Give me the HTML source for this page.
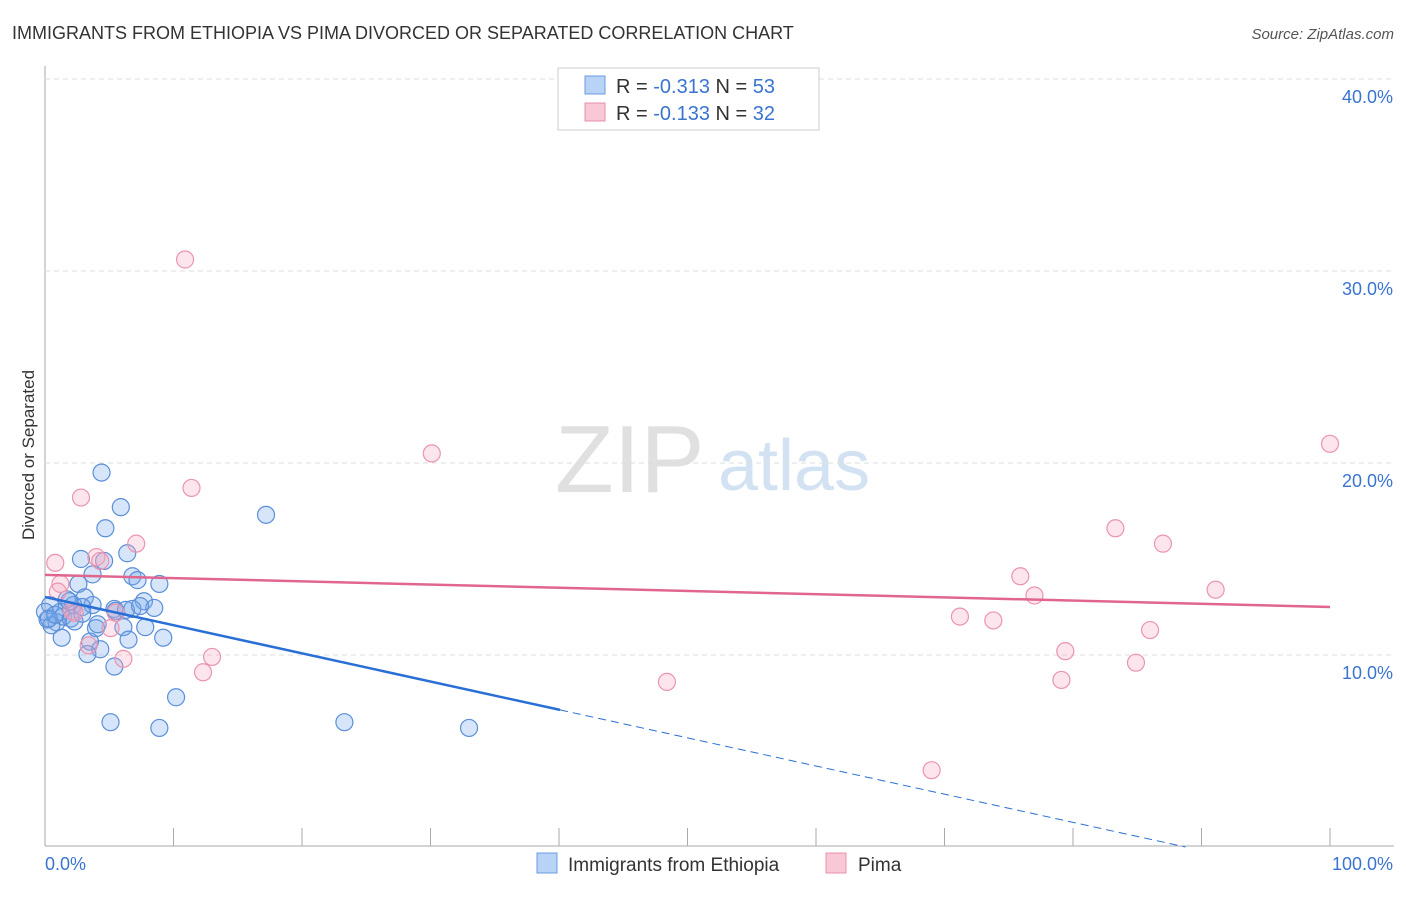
<!DOCTYPE html>
<html><head><meta charset="utf-8"><style>
body{margin:0;background:#fff;font-family:"Liberation Sans",sans-serif;}
svg text{font-family:"Liberation Sans",sans-serif;}
</style></head><body>
<svg id="chart" width="1406" height="892">
<text x="12" y="39" font-size="18" fill="#333">IMMIGRANTS FROM ETHIOPIA VS PIMA DIVORCED OR SEPARATED CORRELATION CHART</text>
<text x="1394" y="39" font-size="15" fill="#555" font-style="italic" text-anchor="end">Source: ZipAtlas.com</text>
<text x="34" y="455" font-size="17" fill="#333" transform="rotate(-90 34 455)" text-anchor="middle">Divorced or Separated</text>
<text x="555" y="492" font-size="96" fill="#e0e0e0" font-family="Liberation Serif">ZIP</text>
<text x="718" y="490" font-size="72" fill="#d3e2f3">atlas</text>
<g id="grid"></g><g id="pts"></g><g id="lines"></g>
<g>
<rect x="558" y="68" width="261" height="62" fill="#fff" stroke="#ccc"/>
<rect x="585" y="76" width="20" height="18" fill="#b8d3f5" stroke="#6a9be0"/>
<text x="616" y="93" font-size="20" fill="#333">R = <tspan fill="#3a74d0">-0.313</tspan>   N = <tspan fill="#3a74d0">53</tspan></text>
<rect x="585" y="103" width="20" height="18" fill="#f8c8d6" stroke="#e890a8"/>
<text x="616" y="120" font-size="20" fill="#333">R = <tspan fill="#3a74d0">-0.133</tspan>   N = <tspan fill="#3a74d0">32</tspan></text>
</g>
<g>
<rect x="537" y="853" width="20" height="20" fill="#b8d3f5" stroke="#6a9be0"/>
<text x="568" y="871" font-size="19" fill="#333">Immigrants from Ethiopia</text>
<rect x="826" y="853" width="20" height="20" fill="#f8c8d6" stroke="#e890a8"/>
<text x="858" y="871" font-size="19" fill="#333">Pima</text>
</g>
<text x="45" y="870" font-size="18" fill="#3a74d0">0.0%</text>
<text x="1393" y="870" font-size="18" fill="#3a74d0" text-anchor="end">100.0%</text>
</svg>
<script>
const yTicks=[10,20,30,40];
const blueX=[4.4,5.9,4.7,17.2,6.4,2.8,4.6,3.7,6.8,7.2,8.9,2.6,1.7,3.1,7.7,2.2,3.7,5.4,6.8,8.5,2.9,1.2,0.4,0.2,0.9,1.4,2.0,2.3,0.5,5.5,6.3,3.97,6.1,7.8,1.3,3.5,6.5,9.2,4.3,3.3,5.4,10.2,5.1,8.9,23.3,33.0,7.4,1.9,0.0,0.3,0.8,4.1,2.9];
const blueY=[19.5,17.7,16.6,17.3,15.3,15.0,14.9,14.2,14.1,13.9,13.7,13.7,12.9,13.0,12.8,12.6,12.6,12.4,12.4,12.45,12.5,12.25,12.6,11.85,11.7,12.0,11.9,11.75,11.55,12.3,12.35,11.4,11.45,11.45,10.9,10.7,10.8,10.9,10.3,10.05,9.4,7.8,6.5,6.2,6.5,6.2,12.55,12.8,12.25,11.9,12.1,11.6,12.15];
const pinkX=[10.9,30.1,2.8,11.4,0.8,7.1,4.0,4.3,1.2,2.1,5.5,5.1,3.4,6.1,13.0,12.3,48.4,100,83.3,87.0,75.9,77.0,91.1,71.2,73.8,86.0,79.4,84.9,79.1,69.0,2.3,1.0];
const pinkY=[30.6,20.5,18.2,18.7,14.8,15.8,15.1,14.9,13.7,12.3,12.2,11.4,10.5,9.8,9.9,9.1,8.6,21.0,16.6,15.8,14.1,13.1,13.4,12.0,11.8,11.3,10.2,9.6,8.7,4.0,12.2,13.3];
const blueLine=[13.02,-0.1467];
const pinkLine=[14.17,12.5];
const X=v=>45+v*12.85, Y=v=>847-v*19.2;
const NS="http://www.w3.org/2000/svg";
function mk(t,a,p){const e=document.createElementNS(NS,t);for(const k in a)e.setAttribute(k,a[k]);p.appendChild(e);return e;}
const g=document.getElementById('grid'),svg=document.getElementById('chart');
const ax=mk('line',{x1:45,y1:66,x2:45,y2:846,stroke:'#aaa'},g);


const bx=mk('line',{x1:45,y1:846,x2:1394,y2:846,stroke:'#aaa'},g);


for(let i=1;i<=10;i++){const t=mk('line',{x1:45+i*128.5,y1:828,x2:45+i*128.5,y2:846,stroke:'#aaa'},g);

}
yTicks.forEach(v=>{const l=mk('line',{x1:45,x2:1394,y1:Y(v),y2:Y(v),stroke:'#ddd','stroke-dasharray':'5,4'},g);


const t=mk('text',{x:1393,y:Y(v)+24,'font-size':18,fill:'#3a74d0','text-anchor':'end'},g);t.textContent=v.toFixed(1)+'%';

});
const p=document.getElementById('pts');
blueX.forEach((x,i)=>{const c=mk('circle',{cx:X(x),cy:Y(blueY[i]),r:8.5,fill:'rgba(120,170,235,0.3)',stroke:'#5b8fd8','stroke-width':1.2},p);

});
pinkX.forEach((x,i)=>{const c=mk('circle',{cx:X(x),cy:Y(pinkY[i]),r:8.5,fill:'rgba(245,170,195,0.3)',stroke:'#eb94ae','stroke-width':1.2},p);

});
const L=document.getElementById('lines');
const bEnd=40.08, bz=Math.min(100,-blueLine[0]/blueLine[1]);
const b1=mk('line',{x1:X(0),y1:Y(blueLine[0]),x2:X(bEnd),y2:Y(blueLine[0]+blueLine[1]*bEnd),stroke:'#2a6fd6','stroke-width':2.5},L);


const b2=mk('line',{x1:X(bEnd),y1:Y(blueLine[0]+blueLine[1]*bEnd),x2:X(bz),y2:Y(blueLine[0]+blueLine[1]*bz),stroke:'#2a6fd6','stroke-width':1,'stroke-dasharray':'8,5'},L);


const pl=mk('line',{x1:X(0),y1:Y(pinkLine[0]),x2:X(100),y2:Y(pinkLine[1]),stroke:'#e06690','stroke-width':2.5},L);


</script>
</body></html>
